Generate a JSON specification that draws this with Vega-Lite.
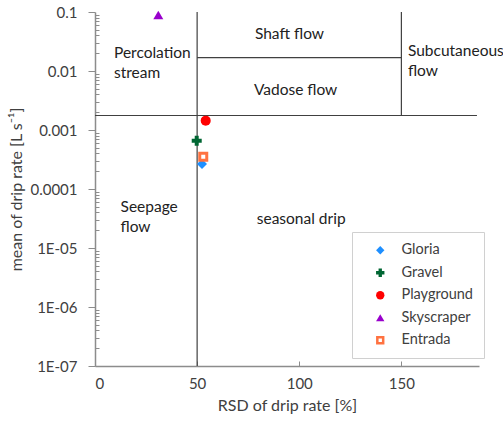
{
  "$schema": "https://vega.github.io/schema/vega-lite/v6.json",
  "width": 384,
  "height": 354,
  "autosize": {"type": "none"},
  "padding": {"left": 95, "top": 12, "right": 24, "bottom": 55},
  "background": "white",
  "config": {
    "view": {"stroke": null},
    "font": "Lato",
    "axis": {
      "grid": false,
      "labelFont": "Lato",
      "titleFont": "Lato",
      "labelColor": "#404040",
      "titleColor": "#404040",
      "titleFontWeight": "normal",
      "labelFontSize": 15,
      "titleFontSize": 16,
      "domainColor": "#8c8c8c",
      "tickColor": "#8c8c8c",
      "domainWidth": 1.5,
      "tickWidth": 1
    },
    "legend": {
      "orient": "none",
      "legendX": 257,
      "legendY": 220,
      "strokeColor": "#d0d0d0",
      "padding": 11,
      "symbolOffset": 10,
      "labelOffset": 14,
      "rowPadding": 7.5,
      "labelFontSize": 14.5,
      "labelFont": "Lato",
      "labelColor": "#404040",
      "symbolSize": 70,
      "symbolStrokeWidth": 0
    }
  },
  "datasets": {
    "lines": [
      {"x": 50, "x2": 50, "y": 1e-7, "y2": 0.1},
      {"x": 0, "x2": 187, "y": 0.00176, "y2": 0.00176},
      {"x": 50, "x2": 150, "y": 0.0168, "y2": 0.0168},
      {"x": 150, "x2": 150, "y": 0.00176, "y2": 0.1}
    ],
    "labels": [
      {"text": "Percolation", "x": 9.3, "y": 0.0202},
      {"text": "stream", "x": 9.3, "y": 0.00925},
      {"text": "Shaft flow", "x": 78.3, "y": 0.0424},
      {"text": "Subcutaneous", "x": 153.2, "y": 0.0218},
      {"text": "flow", "x": 153.2, "y": 0.01},
      {"text": "Vadose flow", "x": 77.8, "y": 0.0048},
      {"text": "Seepage", "x": 12.5, "y": 4.9e-5},
      {"text": "flow", "x": 12.5, "y": 2.25e-5},
      {"text": "seasonal drip", "x": 79.2, "y": 3.1e-5}
    ],
    "sites": [
      {"site": "Gloria", "rsd": 52.4, "mean": 0.000265},
      {"site": "Gravel", "rsd": 49.8, "mean": 0.00066},
      {"site": "Playground", "rsd": 54.2, "mean": 0.00144},
      {"site": "Skyscraper", "rsd": 31, "mean": 0.089},
      {"site": "Entrada", "rsd": 53, "mean": 0.000353}
    ]
  },
  "layer": [
    {
      "data": {"name": "lines"},
      "mark": {"type": "rule", "color": "#404040", "strokeWidth": 1.2},
      "encoding": {
        "x": {"field": "x", "type": "quantitative", "scale": {"domain": [0, 188], "nice": false, "zero": false}},
        "x2": {"field": "x2"},
        "y": {
          "field": "y",
          "type": "quantitative",
          "scale": {"type": "log", "domain": [1e-7, 0.1], "nice": false},
          "axis": {
            "orient": "left",
            "title": null,
            "labels": false,
            "domain": false,
            "ticks": true,
            "tickSize": -4,
            "values": [2e-7, 3e-7, 4e-7, 5e-7, 6e-7, 7e-7, 8e-7, 9e-7,
                       2e-6, 3e-6, 4e-6, 5e-6, 6e-6, 7e-6, 8e-6, 9e-6,
                       2e-5, 3e-5, 4e-5, 5e-5, 6e-5, 7e-5, 8e-5, 9e-5,
                       2e-4, 3e-4, 4e-4, 5e-4, 6e-4, 7e-4, 8e-4, 9e-4,
                       0.002, 0.003, 0.004, 0.005, 0.006, 0.007, 0.008, 0.009,
                       0.02, 0.03, 0.04, 0.05, 0.06, 0.07, 0.08, 0.09]
          }
        },
        "y2": {"field": "y2"}
      }
    },
    {
      "data": {"name": "labels"},
      "mark": {"type": "text", "align": "left", "baseline": "middle", "fontSize": 15.5, "font": "Lato", "color": "#222222"},
      "encoding": {
        "x": {"field": "x", "type": "quantitative", "scale": {"domain": [0, 188], "nice": false, "zero": false}},
        "y": {"field": "y", "type": "quantitative", "scale": {"type": "log", "domain": [1e-7, 0.1], "nice": false}, "axis": null},
        "text": {"field": "text"}
      }
    },
    {
      "data": {"name": "sites"},
      "mark": {"type": "point", "filled": true, "opacity": 1, "size": 100},
      "encoding": {
        "x": {
          "field": "rsd",
          "type": "quantitative",
          "scale": {"domain": [0, 188], "nice": false, "zero": false},
          "axis": {
            "title": "RSD of drip rate [%]",
            "values": [0, 50, 100, 150],
            "tickSize": -5,
            "labelPadding": 15,
            "titlePadding": 6
          }
        },
        "y": {
          "field": "mean",
          "type": "quantitative",
          "scale": {"type": "log", "domain": [1e-7, 0.1], "nice": false},
          "axis": {
            "orient": "left",
            "title": "mean of drip rate [L s⁻¹]",
            "values": [1e-7, 1e-6, 1e-5, 1e-4, 0.001, 0.01, 0.1],
            "tickSize": 7,
            "labelPadding": 11,
            "titlePadding": 5,
            "labelExpr": "datum.value >= 0.00009 ? format(datum.value, '~g') : '1E-0' + round(-log(datum.value) / LN10)"
          }
        },
        "color": {
          "field": "site",
          "type": "nominal",
          "scale": {
            "domain": ["Gloria", "Gravel", "Playground", "Skyscraper", "Entrada"],
            "range": ["#1E8FFF", "#006633", "#FF0000", "#9900CC", "#FF7240"]
          },
          "legend": {"title": null}
        },
        "shape": {
          "field": "site",
          "type": "nominal",
          "scale": {
            "domain": ["Gloria", "Gravel", "Playground", "Skyscraper", "Entrada"],
            "range": ["diamond", "cross", "circle", "triangle-up", "M-1,-1H1V1H-1Z M-0.4,-0.4V0.4H0.4V-0.4Z"]
          },
          "legend": {"title": null}
        }
      }
    }
  ],
  "resolve": {"axis": {"y": "independent"}}
}
